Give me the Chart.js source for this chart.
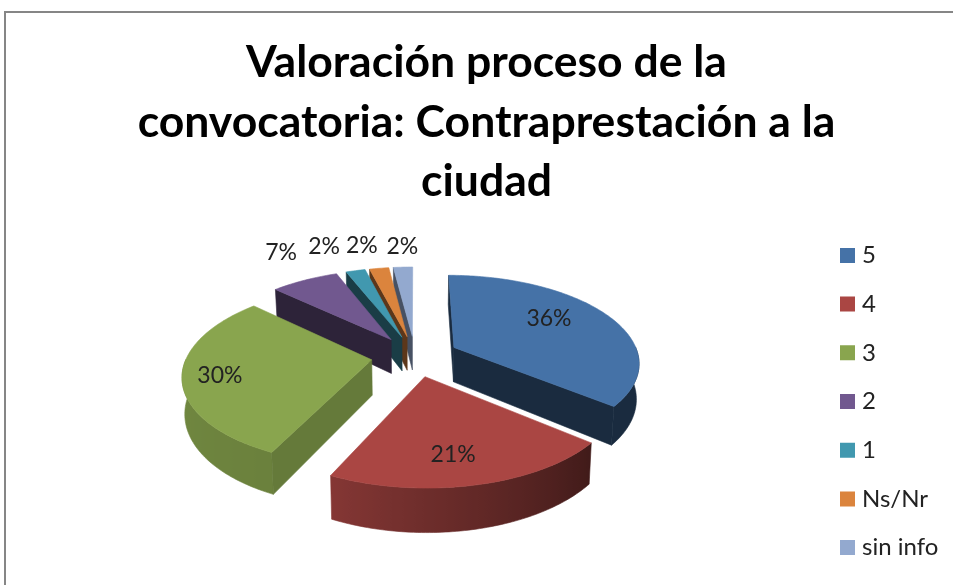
<!DOCTYPE html>
<html><head><meta charset="utf-8">
<style>
html,body{margin:0;padding:0;background:#fff;overflow:hidden}
#frame{position:absolute;left:4px;top:11px;width:949px;height:574px;border-left:2px solid #868686;border-top:2px solid #868686;box-sizing:border-box}
canvas{position:absolute;left:0;top:0;filter:blur(0.5px)}
</style>
<script src="https://cdn.jsdelivr.net/npm/chart.js@4"></script>
</head><body><div id="frame"></div><canvas id="c" width="953" height="585"></canvas>
<script>
const categories=['5','4','3','2','1','Ns/Nr','sin info'];
const values=[36,21,30,7,2,2,2];
const colors=['#4572A7','#AA4643','#89A54E','#71588F','#4198AF','#DB843D','#93A9CF'];
const cutShade=[.38,.4,.74,.4,.4,.42,.48];
const titleLines=['Valoración proceso de la','convocatoria: Contraprestación a la','ciudad'];
const labelReach=[156,188,195,339,317,312,302];
const labelNudgeX=[4,-9,-3,16,-15,-8,2];
const labelNudgeY=[-9,0,2,0,0,0,0];
const explode=45, radius=190;
const tilt=.4536, persp=.00084, depth=35, widthScale=.972;
const FONT='Lato, "Open Sans", sans-serif';

function shade(hex,f){const n=parseInt(hex.slice(1),16);
 return `rgb(${Math.round((n>>16&255)*f)},${Math.round((n>>8&255)*f)},${Math.round((n&255)*f)})`;}
function rimShade(deg){ // deg clockwise from the top
 if(deg<130)return .38; if(deg<205)return .38+(deg-130)/75*.4; return Math.min(.86,.78+(deg-205)/100*.08);}

const pie3d={id:'pie3d',
 afterLayout(chart){
  const l=chart.legend; const target=840+5;
  l.left=target-l.options.labels.padding; l.right=l.left+l.width;
  l.top+=109; l.bottom+=109; l.adjustHitBoxes();
 },
 beforeDatasetsDraw(chart){
  const ctx=chart.ctx, meta=chart.getDatasetMeta(0);
  const cx=(chart.chartArea.left+chart.chartArea.right)/2, cy=(chart.chartArea.top+chart.chartArea.bottom)/2;
  const ox=415-cx, oy=356-cy;
  const proj=(x0,y0,X,Y,z)=>{const s=1/(1-persp*Y);
   return [x0+ox+widthScale*X*s*(1-z*.012), y0+oy+tilt*Y*s+z*depth*Math.pow(s,1.1)];};
  const poly=(pts,fill)=>{ctx.beginPath();pts.forEach((p,i)=>i?ctx.lineTo(p[0],p[1]):ctx.moveTo(p[0],p[1]));ctx.closePath();ctx.fillStyle=fill;ctx.strokeStyle=fill;ctx.lineWidth=.6;ctx.fill();ctx.stroke();};
  const items=meta.data.map((arc,i)=>{
   const {x,y,startAngle,endAngle,outerRadius}=arc.getProps(['x','y','startAngle','endAngle','outerRadius'],true);
   const mid=(startAngle+endAngle)/2, off=arc.options.offset;
   return {i,x,y,startAngle,endAngle,outerRadius,mid,ax:off*Math.cos(mid),ay:off*Math.sin(mid)};
  }).sort((a,b)=>a.ay-b.ay);
  for(const it of items){
   const {x,y,startAngle:a0,endAngle:a1,outerRadius:R,ax,ay,i}=it;
   const col=colors[i];
   const n=Math.max(3,Math.ceil((a1-a0)*180/Math.PI));
   const P=(a,r,z)=>proj(x,y,ax+r*Math.cos(a),ay+r*Math.sin(a),z);
   const rimTop=[],frontTop=[],frontBot=[],stops=[];
   for(let j=0;j<=n;j++){
    const b=a0+(a1-a0)*j/n, p=P(b,R,0);
    rimTop.push(p);
    if(Math.sin(b)>=-.02){
     frontTop.push(p);frontBot.push(P(b,R,1));
     stops.push({x:p[0],c:shade(col,rimShade(((b+Math.PI/2)*180/Math.PI+720)%360))});
    }
   }
   if(frontTop.length>1){
    const xs=stops.map(s=>s.x),mn=Math.min(...xs),mx=Math.max(...xs);
    const g=ctx.createLinearGradient(mn,0,mx,0);
    stops.forEach(s=>g.addColorStop((s.x-mn)/(mx-mn),s.c));
    poly(frontTop.concat(frontBot.slice().reverse()),g);
   }
   // a cut face shows only when it faces the viewer
   if(-Math.cos(a0)>-.01)poly([P(a0,0,0),P(a0,R,0),P(a0,R,1),P(a0,0,1)],shade(col,cutShade[i]));
   if(Math.cos(a1)>.01)poly([P(a1,0,0),P(a1,R,0),P(a1,R,1),P(a1,0,1)],shade(col,cutShade[i]));
   poly([P(a0,0,0)].concat(rimTop),col);
  }
  ctx.fillStyle='#222';ctx.font='23px '+FONT;ctx.textAlign='center';ctx.textBaseline='middle';
  const total=values.reduce((s,v)=>s+v,0);
  for(const it of items){
   const L=labelReach[it.i];
   const p=proj(it.x,it.y,L*Math.cos(it.mid),L*Math.sin(it.mid),0);
   ctx.fillText(Math.round(values[it.i]/total*100)+'%',p[0]+labelNudgeX[it.i],p[1]+labelNudgeY[it.i]);
  }
  return false;
 }};

new Chart(document.getElementById('c'),{
 type:'pie',
 data:{labels:categories,datasets:[{data:values,backgroundColor:colors,borderWidth:0,offset:explode,radius:radius}]},
 plugins:[pie3d],
 options:{responsive:false,animation:false,layout:{padding:{left:20}},
  plugins:{
   tooltip:{enabled:false},
   title:{display:true,text:titleLines,color:'#000',font:{family:FONT,size:44.5,weight:'bold',lineHeight:59.5/44.5},padding:{top:33,bottom:0}},
   legend:{position:'right',labels:{font:{family:FONT,size:24},color:'#222',boxWidth:5,boxHeight:5,padding:24.7,
    generateLabels(chart){return Chart.overrides.pie.plugins.legend.labels.generateLabels(chart).map(l=>({...l,lineWidth:10,strokeStyle:l.fillStyle}));}}}
  }}
});
</script></body></html>
